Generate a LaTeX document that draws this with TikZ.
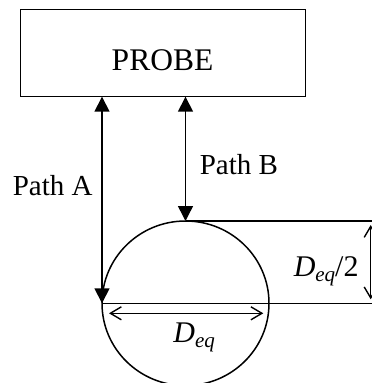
\documentclass[tikz,border=0pt]{standalone}
\usepackage{fontspec}
\setmainfont{Liberation Serif}
\usetikzlibrary{arrows.meta,shapes.geometric}
\begin{document}
\begin{tikzpicture}[x=1pt,y=-1pt,
  line width=1.5pt,
  probebox/.style={draw, rectangle, minimum width=285pt, minimum height=87.4pt, inner sep=0pt, outer sep=0pt},
  body/.style={draw, ellipse, minimum width=167pt, minimum height=164.6pt, inner sep=0pt, outer sep=0pt},
  lbl/.style={inner sep=0pt, anchor=base west, font=\fontsize{29}{34}\selectfont},
  mathlbl/.style={inner sep=0pt, anchor=base west, font=\fontsize{30}{36}\selectfont},
  patharrow/.style={{Triangle[length=15pt,width=15pt]}-{Triangle[length=15pt,width=15pt]}},
  dimarrow/.style={line width=1.4pt,{Straight Barb[length=11pt,width=13pt]}-{Straight Barb[length=11pt,width=13pt]}},
]
\useasboundingbox (0,0) rectangle (372,383);
\clip (0,0) rectangle (372,383);
\node[probebox] (probe) at (163.2,53) {};
\node[inner sep=0pt, font=\fontsize{31.5}{38}\selectfont] (probetxt) at (162.5,60.5) {PROBE};
\node[body] (circ) at (185.5,303.3) {};
\coordinate (edge) at (400,0);
\draw[patharrow] (circ.west |- probe.south) -- (circ.west);
\draw[patharrow] (circ.north |- probe.south) -- (circ.north);
\draw (circ.north) -- (circ.north -| edge);
\draw (circ.west) -- (circ.west -| edge);
\coordinate (dtop) at (370.7,225);
\coordinate (dbot) at (370.7,299.3);
\draw[dimarrow] (dtop) -- (dbot);
\coordinate (dl) at (109,313.3);
\coordinate (dr) at (263.3,313.3);
\draw[dimarrow] (dl) -- (dr);
\node[lbl] (pa) at (12,195) {Path A};
\node[lbl] (pb) at (199,174) {Path B};
\node[mathlbl] (deq) at (172.7,342.7) {\itshape D\raisebox{-5pt}{\fontsize{21}{24}\selectfont eq}};
\node[mathlbl] (deq2) at (293,276) {{\itshape D\raisebox{-5pt}{\fontsize{21}{24}\selectfont eq}}/2};
\end{tikzpicture}
\end{document}
